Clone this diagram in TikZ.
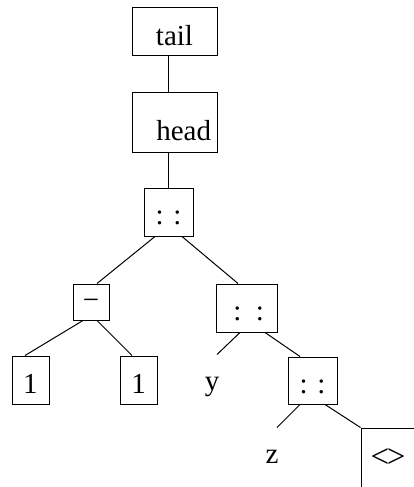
\documentclass[tikz,border=0pt]{standalone}
\usepackage{fontspec}
\setmainfont{Liberation Serif}
\begin{document}
\begin{tikzpicture}[x=1pt, y=-1pt, line width=1pt,
  font=\fontsize{29}{34}\selectfont,
  box/.style={draw, anchor=base, inner sep=0pt, text height=37pt, text depth=11pt},
  leaf/.style={anchor=base, inner sep=0pt, text height=35pt, text depth=0pt}]
\useasboundingbox (0,0) rectangle (413,487);
\node[box, minimum width=85pt, text height=38pt, text depth=10pt] (tail) at (174.5,46) {tail};
\node[box, inner xsep=6pt, text width=73pt, align=right, text height=48pt, text depth=12pt] (head) at (174.5,140) {head};
\node[box, minimum width=49pt, text height=36pt, text depth=12pt] (cons1) at (168.5,224) {: :};
\node[box, minimum width=36pt, text height=25pt] (minus) at (91,309) {−};
\node[box, minimum width=37pt] (one1) at (30.5,393) {1};
\node[box, minimum width=37pt] (one2) at (138.5,393) {1};
\node[box, inner xsep=13pt, text width=35pt, align=right, text height=36pt, text depth=12pt] (cons2) at (246.5,320) {: :};
\node[leaf] (y) at (212,390) {y};
\node[box, minimum width=49pt, text height=36pt] (cons3) at (312.5,393) {: :};
\node[leaf] (z) at (272,463) {z};
\node[box, minimum width=54pt, text height=39pt, text depth=30pt, font=\fontsize{33}{38}\selectfont] (nil) at (388,467) {<\kern-2.5pt>};
\draw (tail.south -| cons1.north) -- (head.north -| cons1.north);
\draw (head.south -| cons1.north) -- (cons1.north);
\draw ([xshift=-13.5pt]cons1.south) -- ([xshift=6pt]minus.north);
\draw ([xshift=13.5pt]cons1.south) -- ([xshift=-8.5pt]cons2.north);
\draw ([xshift=-8pt]minus.south) -- ([xshift=-5.5pt]one1.north);
\draw ([xshift=6pt]minus.south) -- ([xshift=-6.5pt]one2.north);
\draw ([xshift=-6.5pt]cons2.south) -- ([xshift=5pt]y.north);
\draw ([xshift=18.5pt]cons2.south) -- ([xshift=-12.5pt]cons3.north);
\draw ([xshift=-12.5pt]cons3.south) -- ([xshift=5pt]z.north);
\draw ([xshift=12.5pt]cons3.south) -- (nil.north west);
\end{tikzpicture}
\end{document}
